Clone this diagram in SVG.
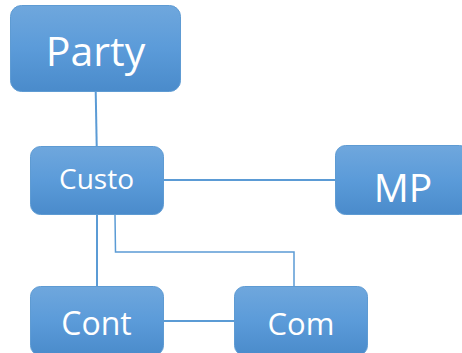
<svg xmlns="http://www.w3.org/2000/svg" width="462" height="353" viewBox="0 0 462 353">
<defs>
<linearGradient id="g" x1="0" y1="0" x2="0" y2="1">
<stop offset="0" stop-color="#6fa7dd"/>
<stop offset="0.5" stop-color="#5b9bd9"/>
<stop offset="1" stop-color="#4a8bcb"/>
</linearGradient>
<style>
.box{fill:url(#g);stroke:#5e9bd3;stroke-width:1}
.lbl{font-family:"Open Sans","Liberation Sans",sans-serif;fill:#ffffff;text-anchor:middle}
.con{stroke:#5b9bd5;stroke-width:2;fill:none}
.thin{stroke:#5b9bd5;stroke-width:1.5;fill:none}
</style>
</defs>
<rect width="462" height="353" fill="#ffffff"/>
<g id="connectors">
<line class="con" x1="95.7" y1="91" x2="96.7" y2="146"/>
<line class="con" x1="164" y1="180" x2="335" y2="180"/>
<line class="con" x1="97" y1="215" x2="97" y2="286"/>
<polyline class="thin" points="115,215 115.5,252 294,252 294,286"/>
<line class="con" x1="164" y1="321" x2="234" y2="321"/>
</g>
<g id="party">
<rect class="box" x="10.5" y="5.5" width="170" height="86" rx="11"/>
<text class="lbl" x="95.5" y="66" font-size="41">Party</text>
</g>
<g id="custo">
<rect class="box" x="30.5" y="146.5" width="133" height="68" rx="10"/>
<text class="lbl" x="96.5" y="189" font-size="28">Custo</text>
</g>
<g id="mp">
<rect class="box" x="335.5" y="145.5" width="134" height="69" rx="10"/>
<text class="lbl" x="403" y="202" font-size="39">MP</text>
</g>
<g id="cont">
<rect class="box" x="30.5" y="286.5" width="133" height="69" rx="10"/>
<text class="lbl" x="96.5" y="335" font-size="32">Cont</text>
</g>
<g id="com">
<rect class="box" x="234.5" y="286.5" width="133" height="69" rx="10"/>
<text class="lbl" x="301" y="335" font-size="31">Com</text>
</g>
</svg>
